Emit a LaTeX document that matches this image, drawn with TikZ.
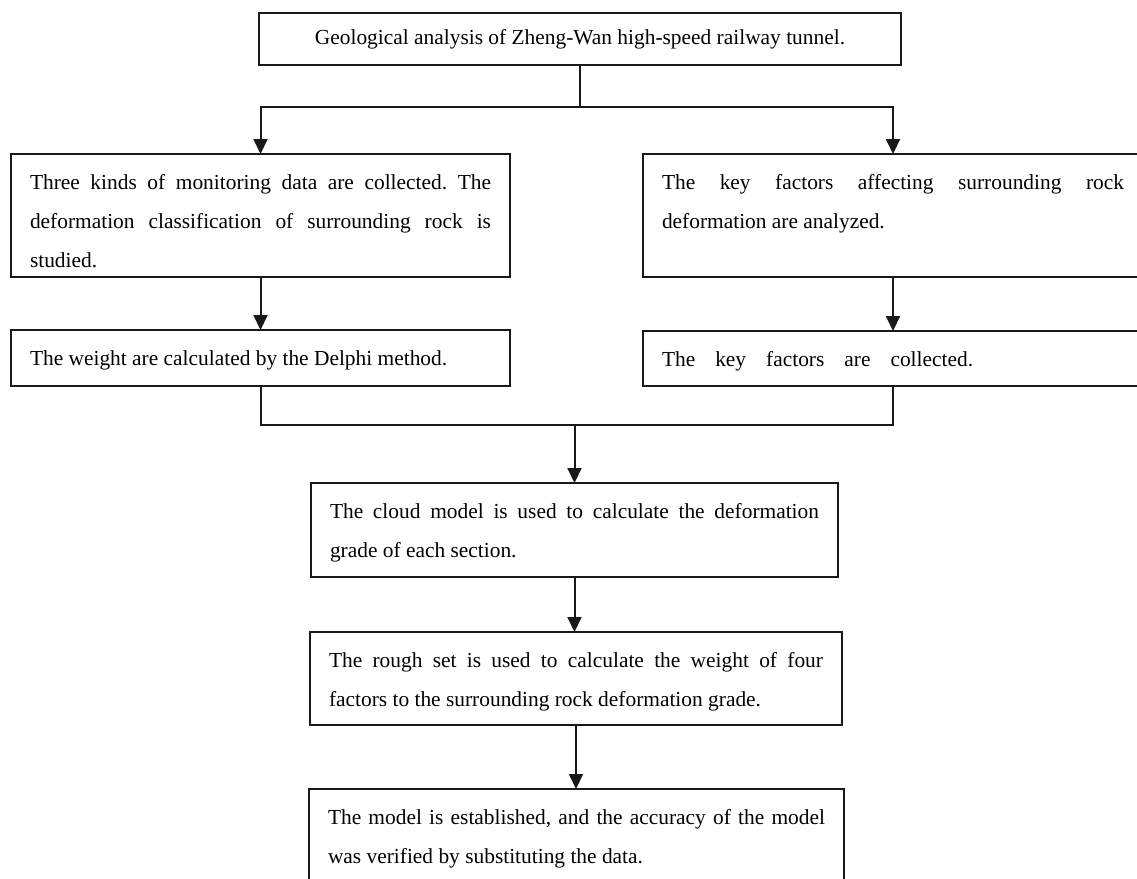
\documentclass[tikz,border=0pt]{standalone}
\usepackage{fontspec}
\setmainfont{Liberation Serif}
\usetikzlibrary{arrows.meta}
\frenchspacing
\newcommand{\fl}{\rule{0pt}{35pt}}
\tikzset{
  box/.style={draw=black!90, line width=1.7pt, rectangle, inner xsep=19pt, inner ysep=0pt, outer sep=0pt,
    font=\fontsize{21.4}{39}\selectfont},
  conn/.style={draw=black!90, line width=2pt},
  arr/.style={conn, -{Triangle[length=15pt,width=14pt]}}
}
\begin{document}
\begin{tikzpicture}[x=1pt,y=-1pt]
\clip (0,0) rectangle (1137,878);
\fill[white] (0,0) rectangle (1137,878);

\node[box, minimum width=642pt, minimum height=52pt] (top) at (580,39)
  {Geological analysis of Zheng-Wan high-speed railway tunnel.};

\node[box, minimum width=499pt, minimum height=123pt] (L1) at (260.5,215.5)
  {\parbox[c][123pt][t]{461pt}{\fl Three kinds of monitoring data are collected. The\linebreak deformation classification of surrounding rock is\linebreak studied.}};

\node[box, minimum width=500pt, minimum height=123pt] (R1) at (893,215.5)
  {\parbox[c][123pt][t]{462pt}{\fl The key factors affecting surrounding rock\linebreak deformation are analyzed.}};

\node[box, minimum width=499pt, minimum height=56pt] (L2) at (260.5,358)
  {\parbox[c][56pt][t]{461pt}{\fl The weight are calculated by the Delphi method.}};

\node[box, minimum width=500pt, minimum height=55pt] (R2) at (893,358.5)
  {\parbox[c][55pt][t]{462pt}{\fl{\spaceskip=20pt The key factors are collected.}}};

\node[box, minimum width=527pt, minimum height=94pt] (B3) at (574.5,530)
  {\parbox[c][94pt][t]{489pt}{\fl The cloud model is used to calculate the deformation\linebreak grade of each section.}};

\node[box, minimum width=532pt, minimum height=93pt] (B4) at (576,678.5)
  {\parbox[c][93pt][t]{494pt}{\fl The rough set is used to calculate the weight of four\linebreak factors to the surrounding rock deformation grade.}};

\node[box, minimum width=535pt, minimum height=101pt] (B5) at (576.5,839.5)
  {\parbox[c][101pt][t]{497pt}{\fl The model is established, and the accuracy of the model\linebreak was verified by substituting the data.}};

% split from top
\coordinate (j) at (top.south |- 0,107);
\draw[conn] (top.south) -- (j);
\draw[arr] (j) -| (L1.north);
\draw[arr] (j) -| (R1.north);

\draw[arr] (L1.south) -- (L2.north);
\draw[arr] (R1.south) -- (R2.north);

% merge
\coordinate (m) at (B3.north |- 0,425);
\draw[conn] (L2.south) |- (m) -| (R2.south);
\draw[arr] (m) -- (B3.north);

\draw[arr] (B3.south) -- (B3.south |- B4.north);
\draw[arr] (B4.south) -- (B4.south |- B5.north);
\end{tikzpicture}
\end{document}
